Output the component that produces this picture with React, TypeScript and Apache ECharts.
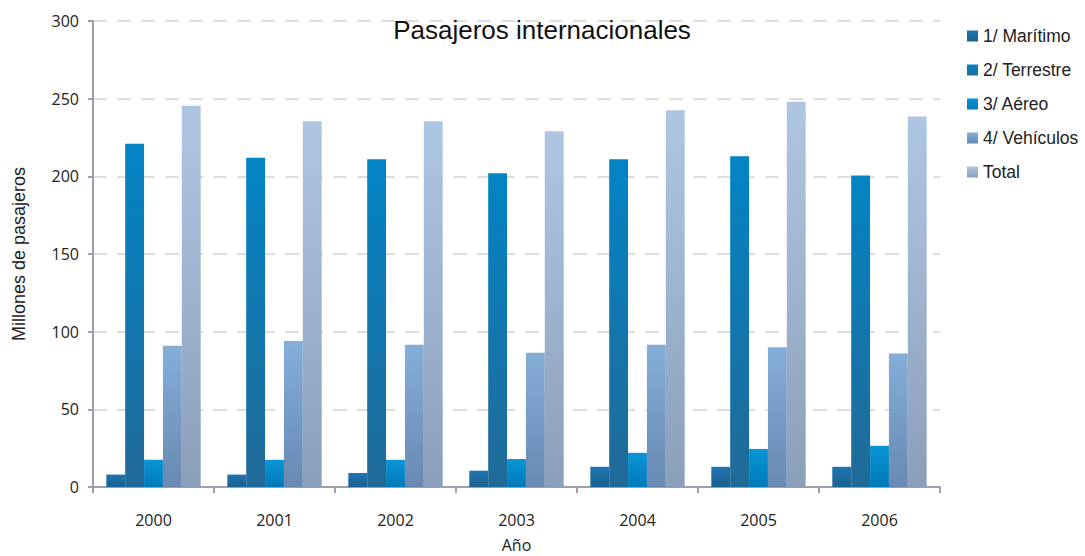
import React, { useEffect, useRef } from "react";
import * as echarts from "echarts";

const years = ["2000", "2001", "2002", "2003", "2004", "2005", "2006"];
const maritimo = [8, 8, 9, 10.5, 13, 13, 13];
const terrestre = [221, 212, 211, 202, 211, 213, 200.5];
const aereo = [17.5, 17.5, 17.5, 18, 22, 24.5, 26.5];
const vehiculos = [91, 94, 91.5, 86.5, 91.5, 90, 86];
const total = [245.5, 235.5, 235.5, 229, 242.5, 248, 238.5];
const seriesNames = ["1/ Marítimo", "2/ Terrestre", "3/ Aéreo", "4/ Vehículos", "Total"];

const grad = (top: string, bottom: string) =>
  new echarts.graphic.LinearGradient(0, 0, 0, 1, [
    { offset: 0, color: top },
    { offset: 1, color: bottom },
  ]);

export default function App() {
  const ref = useRef<HTMLDivElement>(null);
  useEffect(() => {
    if (!ref.current) return;
    const chart = echarts.init(ref.current, undefined, { renderer: "svg" });
    const font = "Liberation Sans, Arial, sans-serif";
    const tickFont = "Open Sans, sans-serif";
    const colors = [
      grad("#1f74b0", "#1a6190"),
      grad("#0384c4", "#216a98"),
      grad("#0a95d6", "#0079b8"),
      grad("#85aed8", "#6889b2"),
      grad("#afc6e2", "#8c9fba"),
    ];
    const data = [maritimo, terrestre, aereo, vehiculos, total];
    chart.setOption({
      animation: false,
      textStyle: { fontFamily: font },
      title: {
        text: "Pasajeros internacionales",
        left: 537,
        textAlign: "center",
        top: 12,
        textStyle: { fontSize: 26, fontWeight: "normal", color: "#111", fontFamily: font },
      },
      legend: {
        orient: "vertical",
        left: 962,
        top: 22,
        itemWidth: 11,
        itemHeight: 11,
        itemGap: 16,
        icon: "rect",
        textStyle: { fontSize: 17.5, color: "#222", fontFamily: font },
        data: seriesNames,
      },
      grid: { left: 93, right: 145, top: 21, bottom: 69, containLabel: false, outerBoundsMode: "none" },
      xAxis: {
        type: "category",
        data: years,
        name: "Año",
        nameLocation: "middle",
        nameGap: 49,
        nameTextStyle: { fontSize: 16, color: "#222", fontFamily: tickFont, lineHeight: 18 },
        axisLine: { lineStyle: { color: "#9aa1aa", width: 2 } },
        axisTick: { show: true, length: 6, inside: false, lineStyle: { color: "#9aa1aa", width: 2 } },
        axisLabel: { fontSize: 16, color: "#222", margin: 25, fontFamily: tickFont },
      },
      yAxis: {
        type: "value",
        min: 0,
        max: 300,
        interval: 50,
        name: "Millones de pasajeros",
        nameLocation: "middle",
        nameGap: 65,
        nameTextStyle: { fontSize: 18, color: "#222", fontFamily: font },
        axisLine: { show: true, lineStyle: { color: "#9aa1aa", width: 2 } },
        axisTick: { show: true, length: 5, lineStyle: { color: "#9aa1aa", width: 2 } },
        axisLabel: { fontSize: 16, color: "#222", margin: 14, fontFamily: tickFont },
        splitLine: { show: true, lineStyle: { color: "#d4d4d4", type: [14, 10], width: 1.5 } },
      },
      series: seriesNames.map((name, i) => ({
        name,
        type: "bar",
        data: data[i],
        barGap: "0%",
        barCategoryGap: "22%",
        itemStyle: { color: colors[i] },
      })),
    });
    return () => chart.dispose();
  }, []);
  return <div ref={ref} style={{ width: 1085, height: 556, position: "absolute", left: 0, top: 0, background: "#fff" }} />;
}
